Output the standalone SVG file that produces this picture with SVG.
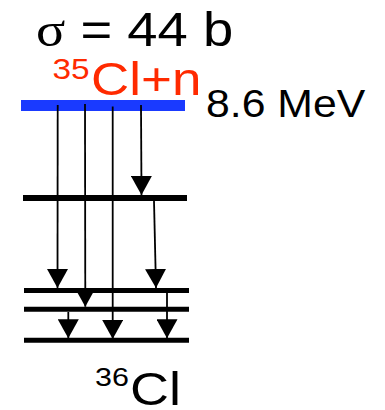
<svg xmlns="http://www.w3.org/2000/svg" width="385" height="410" viewBox="0 0 385 410">
<style>
.lbl{font-family:"Liberation Sans",Arial,sans-serif;fill:#000}
.red{fill:#ff2a00}
.lvl{stroke:#000;stroke-linecap:butt}
.tr{stroke:#000;stroke-width:1.8;fill:none;marker-end:url(#ah)}
</style>
<defs>
<marker id="ah" markerUnits="userSpaceOnUse" markerWidth="20" markerHeight="21" refX="19" refY="10.5" orient="auto" viewBox="0 0 20 21">
<path d="M0,0 L19,10.5 L0,21 z" fill="#000"/>
</marker>
</defs>
<g id="title">
<text class="lbl" transform="translate(36,45.5) scale(1.11,1)" font-size="49"><tspan font-family="Liberation Serif,serif">σ</tspan> = 44 b</text>
</g>
<g id="capture-level">
<rect x="21" y="100" width="164" height="11" fill="#1a3aff"/>
<text class="lbl red" transform="translate(52.5,0) scale(1.15,1)"><tspan x="0" y="79" font-size="29">35</tspan><tspan dx="1.3" y="95.3" font-size="46">Cl+n</tspan></text>
<text class="lbl" transform="translate(206,117.3) scale(1.096,1)" font-size="39">8.6 MeV</text>
</g>
<g id="level1"><line class="lvl" x1="23" y1="198" x2="187" y2="198" stroke-width="6"/></g>
<g id="level2"><line class="lvl" x1="24" y1="290.5" x2="189" y2="290.5" stroke-width="5"/></g>
<g id="level3"><line class="lvl" x1="24" y1="309.3" x2="189" y2="309.3" stroke-width="5"/></g>
<g id="level4"><line class="lvl" x1="24" y1="340.3" x2="189" y2="340.3" stroke-width="5"/></g>
<g id="connectors">
<line class="tr" x1="57.7" y1="105" x2="57.5" y2="288"/>
<line class="tr" x1="85" y1="104" x2="85.3" y2="306.7"/>
<line class="tr" x1="112.7" y1="106.5" x2="112.7" y2="339"/>
<line class="tr" x1="141" y1="105" x2="141.5" y2="195"/>
<line class="tr" x1="154" y1="201" x2="156" y2="288"/>
<line class="tr" x1="68.3" y1="312" x2="68.3" y2="338.3"/>
<line class="tr" x1="167" y1="293" x2="167" y2="338.3"/>
</g>
<g id="product">
<text class="lbl" transform="translate(95,0) scale(1.15,1)"><tspan x="0" y="386.5" font-size="26.5">36</tspan><tspan dx="1" y="405" font-size="47">Cl</tspan></text>
</g>
</svg>
